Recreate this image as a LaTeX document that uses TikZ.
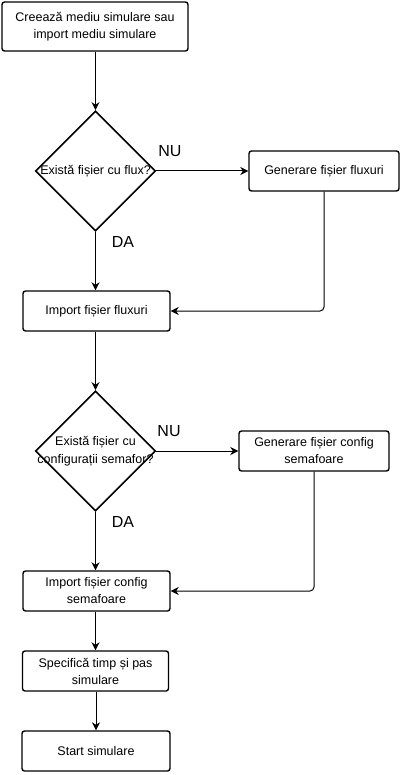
\documentclass[tikz,border=0pt]{standalone}
\usepackage{fontspec}
\setmainfont{Liberation Sans}
\usetikzlibrary{shapes.geometric,arrows.meta}
\begin{document}
\begin{tikzpicture}[x=1pt,y=-1pt,
  box/.style={draw, rounded corners=2.5pt, line width=1.4pt, inner sep=0pt, align=center,
    font=\fontsize{12.5}{17}\selectfont},
  dec/.style={draw, diamond, line width=1.6pt, minimum width=120pt, minimum height=120pt, inner sep=0pt},
  dtext/.style={align=center, font=\fontsize{12.5}{18}\selectfont, inner sep=0pt},
  lab/.style={font=\fontsize{16}{18}\selectfont, inner sep=0pt},
  conn/.style={line width=1pt, -{Stealth[length=8pt,width=8pt,inset=2.5pt]}}
]
\useasboundingbox (0,0) rectangle (401,775);
\node[box, minimum width=186pt, minimum height=49pt] (b1) at (95,26.5) {Creează mediu simulare sau\\import mediu simulare};
\node[dec] (d1) at (95.5,171) {};
\node[dtext] (d1t) at (d1.center) {Există fișier cu flux?};
\node[box, minimum width=150pt, minimum height=40pt] (g1) at (324,171) {Generare fișier fluxuri};
\node[box, minimum width=147pt, minimum height=40pt] (i1) at (96.5,311) {Import fișier fluxuri};
\node[dec] (d2) at (95.5,451) {};
\node[dtext] (d2t) at (d2.center) {Există fișier cu\\configurații semafor?};
\node[box, minimum width=150pt, minimum height=40pt] (g2) at (314,451) {Generare fișier config\\semafoare};
\node[box, minimum width=147pt, minimum height=40pt] (i2) at (96.5,591) {Import fișier config\\semafoare};
\node[box, minimum width=146pt, minimum height=40pt] (s1) at (95.5,671) {Specifică timp și pas\\simulare};
\node[box, minimum width=148pt, minimum height=40pt] (s2) at (96,751) {Start simulare};

\node[lab] (nu1) at (170,151) {NU};
\node[lab] (da1) at (123,242) {DA};
\node[lab] (nu2) at (169,431) {NU};
\node[lab] (da2) at (123,522) {DA};

\draw[conn] (b1.south -| d1.north) -- (d1.north);
\draw[conn] (d1.east) -- (g1.west);
\draw[conn] (d1.south) -- (d1.south |- i1.north);
\draw[conn, rounded corners=4pt] (g1.south) |- (i1.east);
\draw[conn] (i1.south -| d2.north) -- (d2.north);
\draw[conn] (d2.east) -- (g2.west);
\draw[conn] (d2.south) -- (d2.south |- i2.north);
\draw[conn, rounded corners=4pt] (g2.south) |- (i2.east);
\draw[conn] (i2.south -| s1.north) -- (s1.north);
\draw[conn] (s1.south -| s2.north) -- (s2.north);
\end{tikzpicture}
\end{document}
